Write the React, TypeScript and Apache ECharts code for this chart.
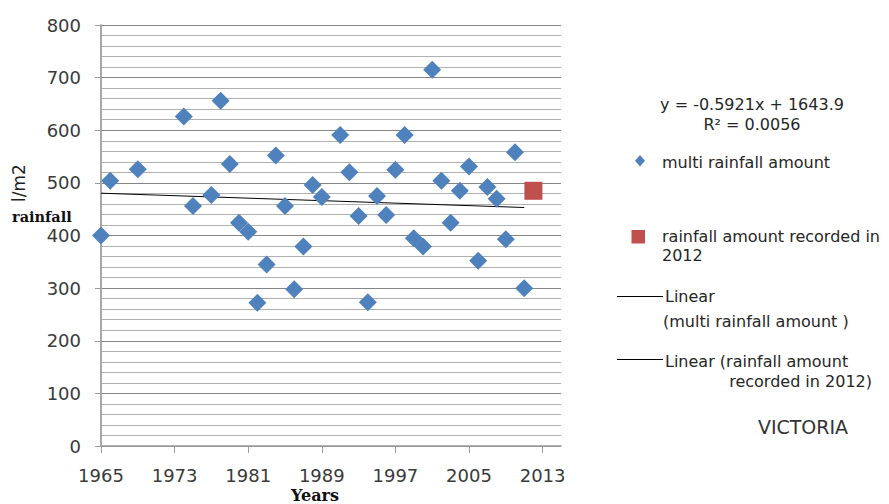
import React, { useEffect, useRef } from "react";
import * as echarts from "echarts";

const years = [1965, 1966, 1969, 1974, 1975, 1977, 1978, 1979, 1980, 1981, 1982, 1983, 1984, 1985, 1986, 1987, 1988, 1989, 1991, 1992, 1993, 1994, 1995, 1996, 1997, 1998, 1999, 2000, 2001, 2002, 2003, 2004, 2005, 2006, 2007, 2008, 2009, 2010, 2011];
const rainfall = [400, 504, 526, 626, 456, 477, 656, 536, 424, 407, 272, 345, 552, 456, 298, 379, 496, 473, 591, 520, 437, 273, 475, 439, 525, 591, 395, 379, 715, 504, 424, 485, 531, 352, 492, 470, 393, 558, 300];
const year2012 = [2012];
const rainfall2012 = [485];
const trendYears = [1965, 2011];
const trendValues = [480.4, 453.2];
const xTickLabels = [1965, 1973, 1981, 1989, 1997, 2005, 2013];
const equationText = "y = -0.5921x + 1643.9";
const r2Text = "R² = 0.0056";

const BLUE = "#4F81BD";
const RED = "#C0504D";
const SANS = "DejaVu Sans";
const SERIF = "DejaVu Serif";

export default function App() {
  const ref = useRef<HTMLDivElement>(null);
  useEffect(() => {
    if (!ref.current) return;
    const chart = echarts.init(ref.current, undefined, { renderer: "svg" });
    const text = (t: string, x: number, y: number, extra: any = {}) => ({
      type: "text",
      x,
      y,
      style: {
        text: t,
        fill: "#262626",
        fontFamily: SANS,
        fontSize: 16,
        align: "left",
        verticalAlign: "middle",
        ...extra,
      },
    });
    chart.setOption({
      animation: false,
      backgroundColor: "#ffffff",
      grid: { left: 101, top: 25, right: 328, bottom: 58, containLabel: false },
      xAxis: {
        type: "value",
        min: 1965,
        max: 2015,
        interval: 8,
        axisLine: { show: true, lineStyle: { color: "#9a9a9a", width: 1.5 } },
        axisTick: { show: true, length: 7, customValues: xTickLabels, lineStyle: { color: "#9a9a9a" } },
        axisLabel: {
          customValues: xTickLabels,
          formatter: (v: number) => String(v),
          color: "#3a3a3a",
          fontFamily: SANS,
          fontSize: 18,
          margin: 20,
        },
        splitLine: { show: false },
      },
      yAxis: {
        type: "value",
        min: 0,
        max: 800,
        interval: 100,
        axisLine: { show: true, lineStyle: { color: "#a8a8a8", width: 2 } },
        axisTick: { show: true, length: 6, lineStyle: { color: "#9a9a9a" } },
        axisLabel: { color: "#3a3a3a", fontFamily: SANS, fontSize: 18, margin: 20 },
        splitLine: { show: true, lineStyle: { color: "#858585", width: 1.2 } },
        minorTick: { show: false, splitNumber: 5 },
        minorSplitLine: { show: true, lineStyle: { color: "#b0b0b0", width: 1.2 } },
      },
      series: [
        {
          name: "Linear (multi rainfall amount )",
          type: "line",
          data: trendYears.map((y, i) => [y, trendValues[i]]),
          showSymbol: false,
          symbol: "none",
          lineStyle: { color: "#000000", width: 1 },
          z: 3,
        },
        {
          name: "multi rainfall amount",
          type: "scatter",
          symbol: "diamond",
          symbolSize: 18,
          itemStyle: { color: BLUE, opacity: 1 },
          data: years.map((y, i) => [y, rainfall[i]]),
          z: 4,
        },
        {
          name: "rainfall amount recorded in 2012",
          type: "scatter",
          symbol: "rect",
          symbolSize: 18,
          itemStyle: { color: RED, opacity: 1 },
          data: year2012.map((y, i) => [y, rainfall2012[i]]),
          z: 4,
        },
      ],
      graphic: [
        {
          type: "text",
          x: 19,
          y: 183,
          rotation: Math.PI / 2,
          style: {
            text: "l/m2",
            fill: "#1f1f1f",
            fontFamily: SANS,
            fontSize: 17,
            align: "center",
            verticalAlign: "middle",
          },
        },
        text("rainfall", 12, 216, { fontFamily: SERIF, fontWeight: "bold", fontSize: 14.5, fill: "#111111" }),
        text("Years", 315, 495, { fontFamily: SERIF, fontWeight: "bold", fontSize: 16, fill: "#111111", align: "center" }),
        text(equationText, 752, 104, { align: "center" }),
        text(r2Text, 752, 124, { align: "center" }),
        {
          type: "polygon",
          shape: { points: [[640, 155], [645, 160.7], [640, 166.4], [635, 160.7]] },
          style: { fill: BLUE },
        },
        text("multi rainfall amount", 662, 162),
        {
          type: "rect",
          shape: { x: 631.5, y: 230, width: 13.5, height: 13.5 },
          style: { fill: RED },
        },
        text("rainfall amount recorded in", 662, 236),
        text("2012", 662, 255.5),
        {
          type: "line",
          shape: { x1: 617, y1: 296.5, x2: 663, y2: 296.5 },
          style: { stroke: "#000000", lineWidth: 1 },
        },
        text("Linear", 665, 296),
        text("(multi rainfall amount )", 663, 321),
        {
          type: "line",
          shape: { x1: 617, y1: 359.5, x2: 663, y2: 359.5 },
          style: { stroke: "#000000", lineWidth: 1 },
        },
        text("Linear (rainfall amount", 665, 361),
        text("recorded in 2012)", 872, 381, { align: "right" }),
        text("VICTORIA", 803, 427, { align: "center", fontSize: 19, fill: "#333333" }),
      ],
    });
    return () => chart.dispose();
  }, []);
  return (
    <div
      ref={ref}
      style={{ position: "fixed", left: 0, top: 0, width: 889, height: 504, background: "#fff" }}
    />
  );
}
